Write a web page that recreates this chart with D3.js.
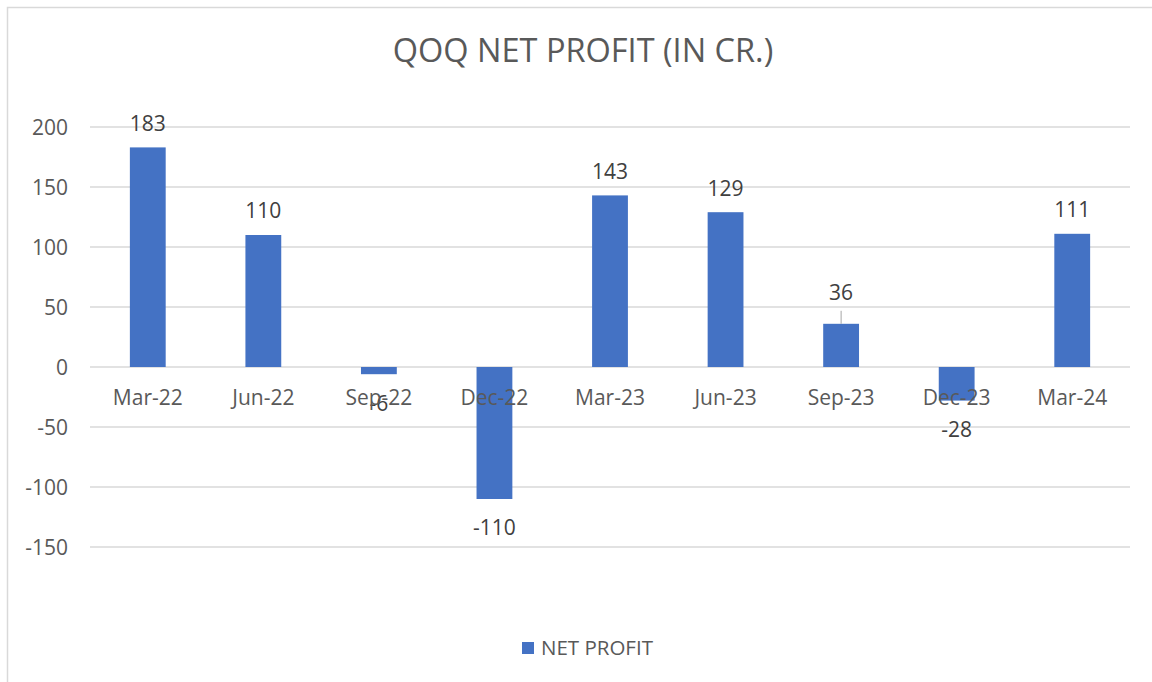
<!DOCTYPE html>
<html lang="en">
<head>
    <meta charset="UTF-8">
    <title>QOQ Net Profit</title>
    <style>
        body { margin: 0; background: #fff; }
        text { font-family: "Open Sans", "Noto Sans", sans-serif; fill: #595959; }
    </style>
</head>
<body>
    <svg id="container" width="1152" height="682">
        <rect x="7.5" y="7.5" width="1160" height="700" fill="#fff" stroke="#d9d9d9" stroke-width="1.5"></rect>
        <g id="grid"></g>
        <g id="yAxis"></g>
        <g id="body"></g>
        <g id="labels"></g>
        <g id="xAxis"></g>
        <g id="legend"></g>
    </svg>

<script src="https://cdn.jsdelivr.net/npm/d3@7/dist/d3.min.js"></script>
<script>

    let quarters = ["Mar-22", "Jun-22", "Sep-22", "Dec-22", "Mar-23", "Jun-23", "Sep-23", "Dec-23", "Mar-24"]
    let netProfit = [183, 110, -6, -110, 143, 129, 36, -28, 111]
    let yTicks = [-150, -100, -50, 0, 50, 100, 150, 200]

    let svg = d3.select("#container")

    let xScale = d3.scaleBand()
        .range([90, 1130])
        .domain(quarters)
        .paddingInner(0.69)
        .paddingOuter(0.345)

    let yScale = d3.scaleLinear()
        .range([547, 127])
        .domain([-150, 200])

    // title
    svg.append("text")
        .attr("x", 583)
        .attr("y", 62)
        .attr("text-anchor", "middle")
        .style("font-size", "32.5px")
        .text("QOQ NET PROFIT (IN CR.)")

    // gridlines
    d3.select("#grid").selectAll("line")
        .data(yTicks)
        .enter()
        .append("line")
        .attr("x1", 90)
        .attr("x2", 1130)
        .attr("y1", d => yScale(d))
        .attr("y2", d => yScale(d))
        .attr("stroke", "#d9d9d9")
        .attr("stroke-width", 1.3)

    let yAxis = d3.axisLeft(yScale)
        .tickValues(yTicks)
        .tickFormat(d => String(d))
        .tickSize(0)
        .tickPadding(0)
    d3.select("#yAxis")
        .attr("transform", "translate(68,0)")
        .call(yAxis)
        .call(g => g.select(".domain").remove())
        .call(g => g.selectAll("text")
            .attr("dy", "0.35em")
            .style("font-size", "21px")
            .style("font-family", null))

    let data = quarters.map((q, i) => ({ q: q, v: netProfit[i] }))

    d3.select("#body").selectAll("rect")
        .data(data)
        .enter()
        .append("rect")
        .attr("fill", "#4472c4")
        .attr("x", d => xScale(d.q))
        .attr("width", xScale.bandwidth())
        .attr("y", d => yScale(Math.max(0, d.v)))
        .attr("height", d => Math.abs(yScale(d.v) - yScale(0)))

    // value labels (Sep-23 one sits a little higher with a leader line)
    let lift = { "Sep-23": 7 }
    d3.select("#labels").selectAll("text")
        .data(data)
        .enter()
        .append("text")
        .attr("x", d => xScale(d.q) + xScale.bandwidth() / 2)
        .attr("y", d => d.v >= 0 ? yScale(d.v) - 24 - (lift[d.q] || 0) : yScale(d.v) + 29)
        .attr("dy", "0.35em")
        .attr("text-anchor", "middle")
        .style("font-size", "21px")
        .style("fill", "#404040")
        .text(d => d.v)

    d3.select("#labels").selectAll("line")
        .data(data.filter(d => lift[d.q]))
        .enter()
        .append("line")
        .attr("x1", d => xScale(d.q) + xScale.bandwidth() / 2)
        .attr("x2", d => xScale(d.q) + xScale.bandwidth() / 2)
        .attr("y1", d => yScale(d.v) - 13)
        .attr("y2", d => yScale(d.v))
        .attr("stroke", "#a6a6a6")
        .attr("stroke-width", 1)

    let xAxis = d3.axisBottom(xScale)
        .tickSize(0)
        .tickPadding(0)
    d3.select("#xAxis")
        .attr("transform", "translate(0," + yScale(0) + ")")
        .call(xAxis)
        .call(g => g.select(".domain").remove())
        .call(g => g.selectAll("text")
            .attr("y", 31)
            .attr("dy", "0.35em")
            .style("font-size", "21px")
            .style("font-family", null))

    // legend
    let legend = d3.select("#legend")
    legend.append("rect")
        .attr("x", 522)
        .attr("y", 642)
        .attr("width", 12)
        .attr("height", 12)
        .attr("fill", "#4472c4")
    legend.append("text")
        .attr("x", 541)
        .attr("y", 648)
        .attr("dy", "0.35em")
        .style("font-size", "20.5px")
        .text("NET PROFIT")

</script>
</body>
</html>
